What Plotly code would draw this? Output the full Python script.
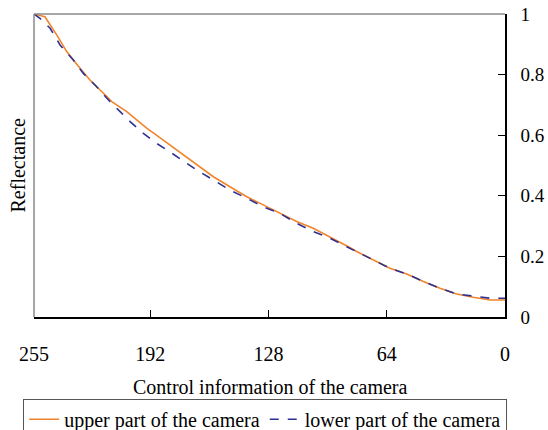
import plotly.graph_objects as go

# Control information (x) and reflectance (y)
upper_x = [255, 249.1, 242.7, 237.3, 230.1, 224.7, 219.2, 212.9, 204.8, 200.3, 194.0, 185.0,
           177.7, 170.5, 166.9, 157.9, 148.9, 139.8, 130.9, 121.8, 112.8, 103.8, 94.7, 84.8,
           80.3, 71.3, 62.3, 53.2, 44.2, 35.2, 26.2, 17.2, 8.1, 0]
upper_y = [1.0, 0.991, 0.931, 0.876, 0.821, 0.782, 0.749, 0.711, 0.678, 0.656, 0.623, 0.584,
           0.551, 0.518, 0.502, 0.463, 0.430, 0.397, 0.370, 0.342, 0.315, 0.293, 0.265, 0.232,
           0.216, 0.188, 0.161, 0.142, 0.117, 0.095, 0.076, 0.065, 0.056, 0.056]

lower_x = [255, 251.8, 246.3, 240.9, 233.7, 228.3, 221.1, 213.9, 208.4, 203.0, 195.8, 188.6,
           181.4, 172.3, 166.9, 157.9, 148.9, 139.8, 130.9, 121.8, 112.8, 103.8, 94.7, 85.7,
           80.3, 71.3, 62.3, 53.2, 44.2, 35.2, 26.2, 17.2, 8.1, 0]
lower_y = [1.0, 0.986, 0.953, 0.898, 0.848, 0.804, 0.760, 0.711, 0.678, 0.645, 0.606, 0.573,
           0.545, 0.507, 0.485, 0.452, 0.419, 0.392, 0.364, 0.342, 0.309, 0.282, 0.260, 0.232,
           0.216, 0.188, 0.161, 0.142, 0.117, 0.095, 0.076, 0.069, 0.062, 0.062]

x_ticks = [255, 192, 128, 64, 0]
y_ticks = [0, 0.2, 0.4, 0.6, 0.8, 1]
y_tick_text = ["0", "0.2", "0.4", "0.6", "0.8", "1"]

FONT = "Liberation Serif"

fig = go.Figure()
fig.add_trace(go.Scatter(x=upper_x, y=upper_y, mode="lines", name="upper part of the camera",
                         line=dict(color="#F0842C", width=1.6)))
fig.add_trace(go.Scatter(x=lower_x, y=lower_y, mode="lines", name="lower part of the camera",
                         line=dict(color="#2E3192", width=1.6, dash="dash")))

fig.update_layout(
    width=548, height=430,
    margin=dict(l=34, r=43, t=14, b=113, autoexpand=False),
    paper_bgcolor="white", plot_bgcolor="white",
    font=dict(family=FONT, size=20, color="black"),
    showlegend=True,
    legend=dict(orientation="h", x=-0.023, xanchor="left", y=-0.27, yanchor="top",
                bordercolor="#555", borderwidth=1, font=dict(size=20),
                itemwidth=30, tracegroupgap=0),
    xaxis=dict(range=[255, 0], tickvals=x_ticks, ticks="inside", ticklen=7,
               tickcolor="black", showline=True, linecolor="black", linewidth=1.5,
               showgrid=False, zeroline=False, ticklabelstandoff=18, automargin=False,
               ticklabeloverflow="allow"),
    yaxis=dict(range=[0, 1], side="right", tickvals=y_ticks, ticktext=y_tick_text,
               ticks="inside", ticklen=7, tickcolor="black", showline=True,
               linecolor="black", linewidth=1.5, showgrid=False, zeroline=False,
               ticklabelstandoff=10, automargin=False, ticklabeloverflow="allow",
               tickfont=dict(size=19)),
    shapes=[
        dict(type="line", xref="paper", yref="paper", x0=0, x1=0, y0=0, y1=1,
             line=dict(color="#8a8a8a", width=1.5)),
        dict(type="line", xref="paper", yref="paper", x0=0, x1=1, y0=1, y1=1,
             line=dict(color="#8a8a8a", width=1.5)),
    ],
    annotations=[
        dict(text="Control information of the camera", xref="paper", yref="paper",
             x=0.5, y=-0.231, xanchor="center", yanchor="middle", showarrow=False,
             font=dict(size=20)),
        dict(text="Reflectance", xref="paper", yref="paper", x=-0.034, y=0.5,
             xanchor="center", yanchor="middle", textangle=-90, showarrow=False,
             font=dict(size=20)),
    ],
)

fig.write_html("out.html", config={"displayModeBar": False},
               post_script="document.body.style.margin='0';document.body.style.overflow='hidden';")
